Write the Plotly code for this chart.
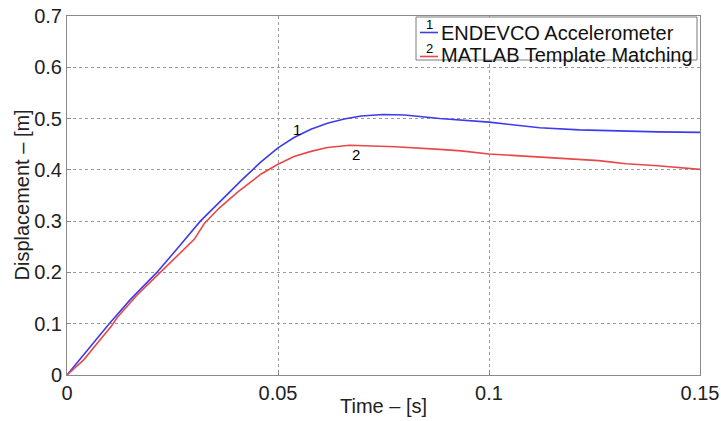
import plotly.graph_objects as go

# ---- data ----
t_endevco = [0, 0.005, 0.01, 0.015, 0.0213, 0.0265, 0.0316, 0.0365, 0.0415, 0.0459,
             0.05, 0.0538, 0.0578, 0.0617, 0.0657, 0.0697, 0.075, 0.08, 0.0855, 0.0883,
             0.1, 0.112, 0.1214, 0.1325, 0.14, 0.15]
d_endevco = [0, 0.05, 0.10, 0.147, 0.20, 0.25, 0.30, 0.34, 0.381, 0.415,
             0.443, 0.463, 0.479, 0.491, 0.499, 0.505, 0.508, 0.507, 0.502, 0.50,
             0.493, 0.482, 0.478, 0.475, 0.474, 0.473]

t_matlab = [0, 0.004, 0.008, 0.0105, 0.012, 0.0165, 0.0221, 0.027, 0.0302, 0.0325,
            0.036, 0.0405, 0.0443, 0.046, 0.05, 0.0538, 0.0578, 0.0617, 0.067, 0.0725,
            0.0778, 0.0883, 0.0934, 0.1, 0.112, 0.126, 0.1325, 0.14, 0.15]
d_matlab = [0, 0.03, 0.07, 0.095, 0.113, 0.155, 0.20, 0.24, 0.265, 0.295,
            0.325, 0.357, 0.381, 0.392, 0.411, 0.426, 0.436, 0.4435, 0.448, 0.447,
            0.445, 0.440, 0.437, 0.431, 0.425, 0.418, 0.412, 0.408, 0.401]

series_names = ["ENDEVCO Accelerometer", "MATLAB Template Matching"]
series_tags = ["1", "2"]
x_ticks = [0, 0.05, 0.1, 0.15]
x_tick_text = ["0", "0.05", "0.1", "0.15"]
y_ticks = [0, 0.1, 0.2, 0.3, 0.4, 0.5, 0.6, 0.7]
y_tick_text = ["0", "0.1", "0.2", "0.3", "0.4", "0.5", "0.6", "0.7"]

BLUE = "#3c3cec"
RED = "#e84848"
FONT = "Liberation Sans, Arial, sans-serif"

# ---- layout geometry (pixels); body margin is removed via post_script ----
W, H = 721, 421
L, T = 67, 16
R = W - 700
B = H - 375
PW, PH = W - L - R, H - T - B


def px(x):
    """page x pixel -> paper coordinate"""
    return (x - L) / PW


def py(y):
    """page y pixel -> paper coordinate"""
    return (H - B - y) / PH


fig = go.Figure()
fig.add_trace(go.Scatter(x=t_endevco, y=d_endevco, mode="lines",
                         line=dict(color=BLUE, width=1.6), name=series_names[0],
                         showlegend=False))
fig.add_trace(go.Scatter(x=t_matlab, y=d_matlab, mode="lines",
                         line=dict(color=RED, width=1.6), name=series_names[1],
                         showlegend=False))

axis_common = dict(showline=True, linecolor="#8a8a8a", linewidth=1, mirror=True,
                   showgrid=True, gridcolor="#9a9a9a", griddash="dot", gridwidth=1,
                   zeroline=False, ticks="inside", ticklen=4, tickcolor="#8a8a8a",
                   tickfont=dict(family=FONT, size=20, color="#222222"),
                   automargin=False, ticklabeloverflow="allow")

fig.update_layout(
    width=W, height=H,
    margin=dict(l=L, r=R, t=T, b=B, autoexpand=False),
    paper_bgcolor="white", plot_bgcolor="white",
    xaxis=dict(range=[0, 0.15], tickvals=x_ticks, ticktext=x_tick_text, **axis_common),
    yaxis=dict(range=[0, 0.7], tickvals=y_ticks, ticktext=y_tick_text, **axis_common),
    showlegend=False,
)

annotations = []
# axis titles
annotations.append(dict(text="Time – [s]", xref="paper", yref="paper", x=0.5, y=py(406),
                        showarrow=False, font=dict(family=FONT, size=20, color="#222222"),
                        xanchor="center", yanchor="middle"))
annotations.append(dict(text="Displacement – [m]", xref="paper", yref="paper", x=px(21),
                        y=0.5, textangle=-90, showarrow=False,
                        font=dict(family=FONT, size=20, color="#222222"),
                        xanchor="center", yanchor="middle"))
# curve tags
annotations.append(dict(text=series_tags[0], x=0.0544, y=0.478, xref="x", yref="y",
                        showarrow=False, font=dict(family=FONT, size=15, color="black")))
annotations.append(dict(text=series_tags[1], x=0.0686, y=0.429, xref="x", yref="y",
                        showarrow=False, font=dict(family=FONT, size=15, color="black")))

# custom legend
shapes = [dict(type="rect", xref="paper", yref="paper", x0=px(416), x1=px(697),
               y0=py(60), y1=py(17), line=dict(color="#7a7a7a", width=1),
               fillcolor="white", layer="above")]
rows = [(33, BLUE), (55, RED)]
for i, (yc, col) in enumerate(rows):
    ly = yc - 0.5 if i == 0 else yc + 1.5
    shapes.append(dict(type="line", xref="paper", yref="paper", x0=px(420), x1=px(438),
                       y0=py(ly), y1=py(ly), line=dict(color=col, width=1.6), layer="above"))
    annotations.append(dict(text=series_tags[i], xref="paper", yref="paper", x=px(429),
                            y=py(ly - 8), showarrow=False,
                            font=dict(family=FONT, size=13, color="black"),
                            xanchor="center", yanchor="middle"))
    annotations.append(dict(text=series_names[i], xref="paper", yref="paper", x=px(438.5),
                            y=py(yc), showarrow=False,
                            font=dict(family=FONT, size=20, color="#111111"),
                            xanchor="left", yanchor="middle"))

fig.update_layout(annotations=annotations, shapes=shapes)
fig.write_html("out.html",
               config={"displayModeBar": False},
               post_script="document.body.style.margin='0';"
                           "document.body.style.overflow='hidden';")
